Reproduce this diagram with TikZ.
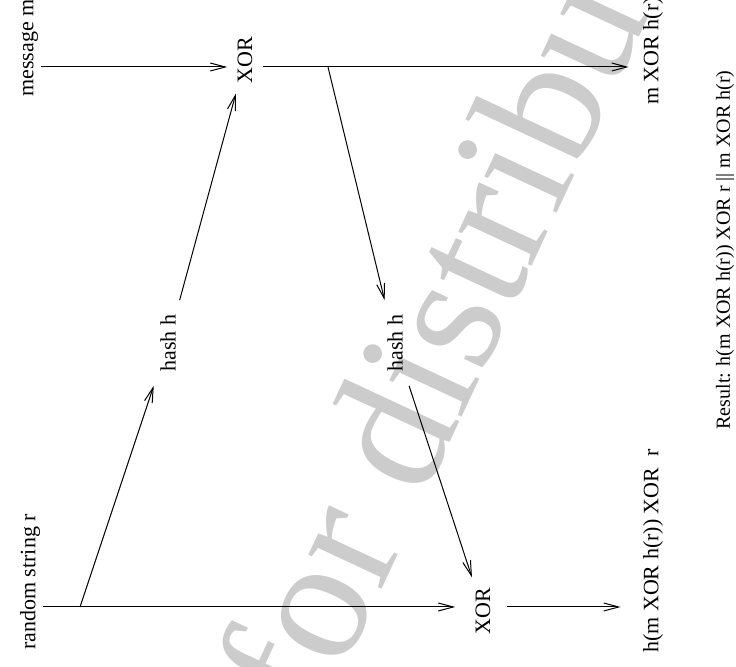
\documentclass[tikz,border=0pt]{standalone}
\usepackage{fontspec}
\setmainfont{Liberation Serif}
\usetikzlibrary{arrows.meta}

\begin{document}
\begin{tikzpicture}[x=0.5pt,y=-0.5pt,
  lbl/.style={rotate=90,font=\fontsize{11}{13}\selectfont,inner sep=1.5pt},
  op/.style={lbl,inner sep=5pt},
  hashbox/.style={lbl,inner sep=7pt},
  arr/.style={-{Straight Barb[length=7.5pt,width=4pt]},line width=0.5pt}]
  \useasboundingbox (0,0) rectangle (736,667);

  % watermark
  \node[rotate=65,anchor=base west,inner sep=0pt,text=black!20,font=\fontsize{88}{90}\selectfont] (wm) at (318,726) {for distribution};

  \node[lbl] (msg) at (30,48) {message m};
  \node[lbl] (rnd) at (30,582) {random string r};
  \node[op] (xorA) at (245,60) {XOR};
  \node[hashbox] (hashA) at (168,343) {hash h};
  \node[hashbox] (hashB) at (395,343) {hash h};
  \node[op] (xorB) at (483,611) {XOR};
  \node[lbl,inner sep=7pt] (outA) at (653,51) {m XOR h(r)};
  \node[lbl,inner sep=11pt] (outB) at (653,551) {h(m XOR h(r)) XOR\ \ r};
  \node[lbl,font=\fontsize{10}{12}\selectfont] (res) at (725,250) {Result: h(m XOR h(r)) XOR r || m XOR h(r)};

  \coordinate (top) at (0,67);
  \coordinate (bot) at (0,607);
  \coordinate (splitA) at (328,67);
  \coordinate (splitB) at (80,607);

  \draw[arr] (msg.south |- top) -- (xorA.north |- top);
  \draw[arr] (xorA.south |- top) -- (outA.north |- top);
  \draw[arr,shorten >=5pt] (rnd.south |- bot) -- (xorB.north |- bot);
  \draw[arr,shorten <=3pt] (xorB.south |- bot) -- (outB.north |- bot);

  \draw[arr] (splitB) -- (hashA);
  \draw[arr] (hashA) -- (xorA);
  \draw[arr] (splitA) -- (hashB);
  \draw[arr] (hashB) -- (xorB);

\end{tikzpicture}
\end{document}
